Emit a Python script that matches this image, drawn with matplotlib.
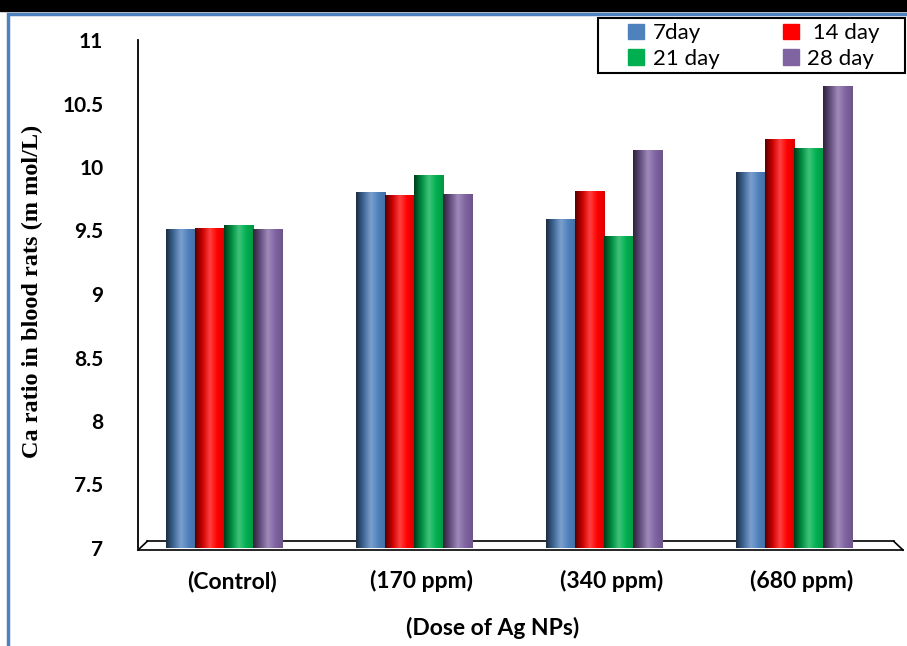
import numpy as np
import matplotlib
matplotlib.use("Agg")
import matplotlib.pyplot as plt
from matplotlib.colors import LinearSegmentedColormap, to_rgb
from matplotlib.patches import Rectangle
from matplotlib.lines import Line2D

# data
doses = ["(Control)", "(170 ppm)", "(340 ppm)", "(680 ppm)"]
series = ["7day", " 14 day", "21 day", "28 day"]
day7 = [9.51, 9.80, 9.59, 9.96]
day14 = [9.52, 9.78, 9.81, 10.22]
day21 = [9.54, 9.94, 9.46, 10.15]
day28 = [9.51, 9.79, 10.13, 10.64]
colors = ["#4F81BD", "#FF0000", "#00B050", "#8064A2"]


def shade_cmap(base):
    c = np.array(to_rgb(base))
    dark = c * 0.35
    light = c + (1 - c) * 0.25
    return LinearSegmentedColormap.from_list(
        "cyl", [dark, c * 0.8, light, c, c * 0.85])


fig = plt.figure(figsize=(9.07, 6.46), dpi=100)
ax = fig.add_axes([138 / 907, 1 - 548 / 646, 765 / 907, 508 / 646])

x = np.arange(len(doses))
w = 0.153
grad = np.linspace(0, 1, 64).reshape(1, -1)
all_vals = [day7, day14, day21, day28]
for i, (vals, col) in enumerate(zip(all_vals, colors)):
    pos = x + (i - 1.5) * w
    bars = ax.bar(pos, vals, width=w, color=col, edgecolor="none", zorder=2)
    for b, p, v in zip(bars, pos, vals):
        im = ax.imshow(grad, extent=[p - w / 2, p + w / 2, 7, v], aspect="auto",
                       cmap=shade_cmap(col), zorder=3, interpolation="bilinear")
        im.set_clip_path(b)

ax.set_xlim(-0.453, 3.574)
ax.set_ylim(7, 11)
ax.set_yticks(np.arange(7, 11.01, 0.5))
ax.set_yticklabels(["7", "7.5", "8", "8.5", "9", "9.5", "10", "10.5", "11"])
ax.set_xticks(x + 0.04)
ax.set_xticklabels(doses)
for lab in ax.get_yticklabels():
    lab.set_fontfamily("Lato")
    lab.set_fontweight("bold")
    lab.set_fontsize(15)
for lab in ax.get_xticklabels():
    lab.set_fontfamily("Lato")
    lab.set_fontweight("bold")
    lab.set_fontsize(16.5)
ax.tick_params(axis="y", length=0, pad=25)
ax.tick_params(axis="x", length=0, pad=16)

for s in ["top", "right", "bottom"]:
    ax.spines[s].set_visible(False)
ax.spines["left"].set_linewidth(1.3)

# 3d-like floor
fl = dict(color="black", lw=1.2, transform=ax.transAxes, clip_on=False)
ax.add_line(Line2D([0, 1.0], [-0.004, -0.004], **fl))
ax.add_line(Line2D([0.012, 0.988], [0.013, 0.013], **fl))
ax.add_line(Line2D([0, 0.012], [-0.004, 0.013], **fl))
ax.add_line(Line2D([0.988, 1.0], [0.013, -0.004], **fl))

ax.set_ylabel("Ca ratio in blood rats (m mol/L)", family="Liberation Serif",
              fontsize=17.5, fontweight="bold")
ax.yaxis.set_label_coords(-0.124, 0.505)
ax.set_xlabel("(Dose of Ag NPs)", family="Lato", fontsize=16.5, fontweight="bold")
ax.xaxis.set_label_coords(0.464, -0.136)

# legend filled column-wise, so order handles to get 7/14 on the first row
order = [0, 2, 1, 3]
handles = [Rectangle((0, 0), 1, 1, color=colors[k]) for k in order]
labels = [series[k] for k in order]
leg = fig.legend(handles, labels, loc="upper left", bbox_to_anchor=(624 / 907, 1 - 19 / 646),
                 ncol=2, prop={"family": "Lato", "size": 16}, frameon=False,
                 handlelength=0.7, handleheight=0.7, handletextpad=0.4, columnspacing=2.85,
                 labelspacing=0.25, borderpad=0.2, borderaxespad=0)
fig.patches.append(Rectangle((598 / 907, 1 - 73 / 646), 307 / 907, 55 / 646,
                             transform=fig.transFigure, fill=False, edgecolor="black",
                             lw=1.5, zorder=5))

# outer decoration: black top band and blue frame
fig.patches.append(Rectangle((0, 1 - 11 / 646), 1, 11 / 646, transform=fig.transFigure,
                             color="black", zorder=0))
fig.patches.append(Rectangle((8 / 907, -0.1), 1.0, 1.1 - 14 / 646, transform=fig.transFigure,
                             fill=False, edgecolor="#4F81BD", lw=2.5, zorder=0))

fig.savefig("out.png", dpi=100)
